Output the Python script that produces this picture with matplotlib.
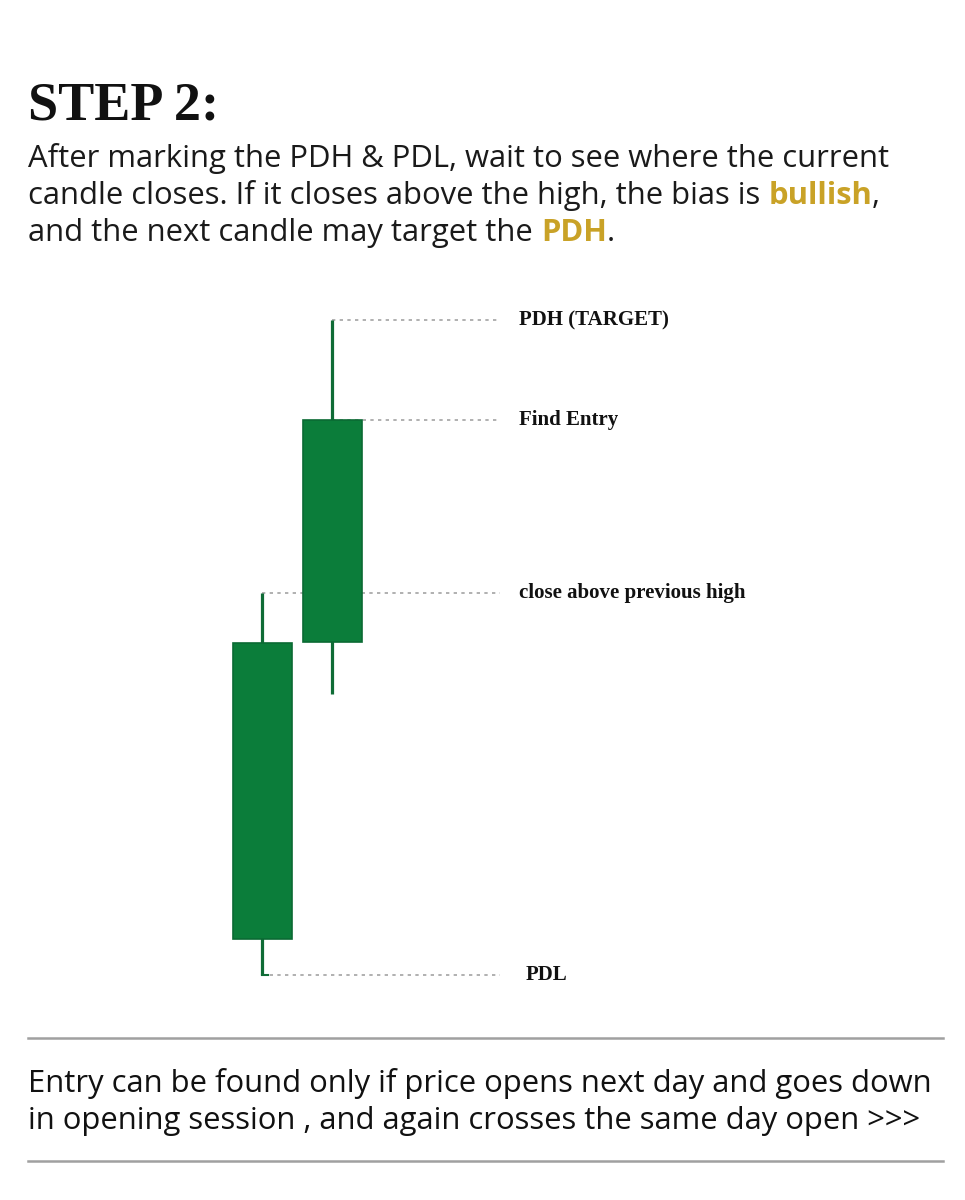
import matplotlib
matplotlib.use("Agg")
import matplotlib.pyplot as plt
from matplotlib.patches import Rectangle

# candle data (price units)
opens = [6.1, 35.8]
closes = [35.7, 58.0]
highs = [40.7, 68.0]
lows = [2.5, 30.6]

# level labels: (price, start candle, text)
levels = [68.0, 58.0, 40.7, 2.5]
level_start = [1, 1, 0, 0]
level_text = ["PDH (TARGET)", "Find Entry", "close above previous high", "PDL"]

title = "STEP 2:"
intro = [
    [("After marking the PDH & PDL, wait to see where the current", False)],
    [("candle closes. If it closes above the high, the bias is ", False),
     ("bullish", True), (",", False)],
    [("and the next candle may target the ", False), ("PDH", True), (".", False)],
]
note = [
    "Entry can be found only if price opens next day and goes down",
    "in opening session , and again crosses the same day open >>>",
]

green = "#0b7d3a"
green_dark = "#0a6a33"
wick_col = "#0f6c36"
gold = "#c9a227"
sans = "Open Sans"
serif = "Liberation Serif"

fig = plt.figure(figsize=(9.65, 12), dpi=100)
W, H = 965, 1200
renderer = fig.canvas.get_renderer()


def fit_size(txt, target_px, start=20.0):
    # font size so that the line spans target_px
    t = fig.text(0, 0, txt, fontsize=start, family=sans)
    w = t.get_window_extent(renderer=renderer).width
    t.remove()
    return start * target_px / w


# title
fig.text(28 / W, 1 - 119 / H, title, fontsize=39, fontweight="bold",
         family=serif, va="baseline", ha="left", color="#111111")

# intro paragraph with highlighted words
intro_size = fit_size(intro[0][0][0], 859)
baselines = [167, 204, 241]
for line, yb in zip(intro, baselines):
    x = 28 / W
    for txt, hl in line:
        t = fig.text(x, 1 - yb / H, txt, fontsize=intro_size, family=sans,
                     fontweight="bold" if hl else "normal",
                     color=gold if hl else "#1a1a1a", va="baseline", ha="left")
        bb = t.get_window_extent(renderer=renderer)
        x += bb.width / W

# chart axes: price 0..70 mapped to pixel rows 1000..300
ax = fig.add_axes([200 / W, 1 - 1000 / H, 500 / W, 700 / H])
ax.set_xlim(-62 / 70, 438 / 70)
ax.set_ylim(0, 70)
ax.axis("off")

body_w = 59 / 70
line_end = 238 / 70
for lv, s, lab in zip(levels, level_start, level_text):
    ax.plot([s, line_end], [lv, lv], color="#a3a3a3", lw=1.2,
            linestyle=(0, (2, 2.6)), zorder=1)
    ax.text(257 / 70 + (0.09 if lab == "PDL" else 0), lv, lab, family=serif,
            fontweight="bold", fontsize=15, va="center", ha="left",
            color="#111111")

for i in range(len(opens)):
    ax.plot([i, i], [lows[i], highs[i]], color=wick_col, lw=2.3,
            solid_capstyle="butt", zorder=2)
    lo, hi = min(opens[i], closes[i]), max(opens[i], closes[i])
    ax.add_patch(Rectangle((i - body_w / 2, lo), body_w, hi - lo,
                           facecolor=green, edgecolor=green_dark, lw=1.2,
                           zorder=3))

# small hook at the bottom of the first wick
ax.plot([0, 0.08], [lows[0], lows[0]], color=wick_col, lw=1.5, zorder=2)

# separator rules and bottom note
for yp in [1038, 1161]:
    fig.add_artist(plt.Line2D([28 / W, 943 / W], [1 - yp / H, 1 - yp / H],
                              color="#a0a0a0", lw=1.8))
note_size = fit_size(note[0], 902)
for txt, yb in zip(note, [1092, 1129]):
    fig.text(28 / W, 1 - yb / H, txt, fontsize=note_size, family=sans,
             color="#111111", va="baseline", ha="left")

fig.savefig("out.png", dpi=100, facecolor="white")
